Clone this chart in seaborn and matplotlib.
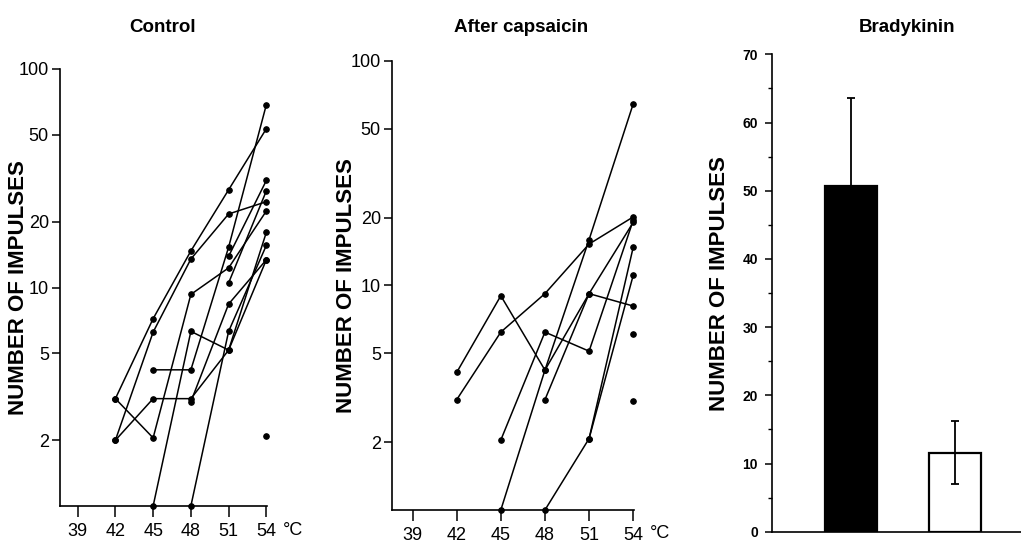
import numpy as np
import pandas as pd
import matplotlib
matplotlib.use('Agg')
import matplotlib.pyplot as plt
import seaborn as sns

# --- data ---
temps = [42, 45, 48, 51, 54]
nan = np.nan

# impulses per heat step, one row per fibre (log scale panels)
control_cells = [
    [3.1, 7.2, 14.7, 28.0, 53.3],
    [2.0, 6.25, 13.5, 21.7, 24.7],
    [3.1, 2.05, 9.3, 12.3, 22.4],
    [2.0, 3.1, 3.1, 5.17, 13.4],
    [nan, 4.2, 4.2, 15.3, 68.7],
    [nan, 1.0, 6.3, 5.17, 17.9],
    [nan, nan, 1.0, 6.3, 15.6],
    [nan, nan, 3.0, 8.4, 13.4],
    [nan, nan, nan, 10.5, 27.7],
    [nan, nan, nan, 13.9, 30.9],
    [nan, nan, nan, nan, 2.1],
]

capsaicin_cells = [
    [4.1, 9.0, 4.2, 9.2, 19.1],
    [3.1, 6.2, 9.2, 15.3, 20.2],
    [nan, 1.0, 4.2, 16.0, 64.4],
    [nan, 2.05, 6.2, 5.1, 19.5],
    [nan, nan, 3.1, 9.2, 8.1],
    [nan, nan, 1.0, 2.08, 11.1],
    [nan, nan, nan, 2.08, 14.8],
    [nan, nan, nan, nan, 6.1],
    [nan, nan, nan, nan, 3.06],
]

# bradykinin bar panel
bk_groups = ['control', 'after capsaicin']
bk_means = [50.7, 11.6]
bk_err = [12.9, 4.6]
bk_colors = ['black', 'white']

x_ticks = [39, 42, 45, 48, 51, 54]
log_ticks = [2, 5, 10, 20, 50, 100]


def to_long(cells):
    rows = []
    for i, vals in enumerate(cells):
        for t, v in zip(temps, vals):
            if not np.isnan(v):
                rows.append({'cell': i, 'temp': t, 'impulses': v})
    return pd.DataFrame(rows)


sns.set_style('ticks')
plt.rcParams['font.family'] = ['Liberation Sans', 'DejaVu Sans']
plt.rcParams['axes.linewidth'] = 1.2
for key in ['text.color', 'axes.labelcolor', 'xtick.color', 'ytick.color', 'axes.edgecolor']:
    plt.rcParams[key] = 'black'

fig = plt.figure(figsize=(10.21, 5.42), dpi=100)

ax1 = fig.add_axes([0.0588, 0.0664, 0.2027, 0.8063])
ax2 = fig.add_axes([0.3839, 0.0590, 0.2370, 0.8285])
ax3 = fig.add_axes([0.7561, 0.0190, 0.2439, 0.8808])

label_font = {'family': ['Liberation Sans'], 'weight': 'bold', 'size': 16}

panels = [(ax1, control_cells, -0.15, 1.077, -0.055),
          (ax2, capsaicin_cells, -0.145, 1.066, -0.052)]
for ax, cells, lab_x, deg_x, deg_y in panels:
    df = to_long(cells)
    sns.lineplot(data=df, x='temp', y='impulses', units='cell', estimator=None,
                 color='black', linewidth=1.1, marker='o', markersize=4,
                 markeredgecolor='black', markerfacecolor='black',
                 ax=ax, clip_on=False, legend=False)
    ax.set_yscale('log')
    ax.set_ylim(1, 100)
    ax.set_xlim(37.6, 54.05)
    ax.set_yticks(log_ticks)
    ax.set_yticklabels([str(v) for v in log_ticks])
    ax.yaxis.set_minor_locator(matplotlib.ticker.NullLocator())
    ax.set_xticks(x_ticks)
    ax.tick_params(axis='both', direction='out', length=6, width=1.1,
                   labelsize=13)
    ax.tick_params(axis='y', pad=2)
    ax.tick_params(axis='x', length=8, pad=4)
    sns.despine(ax=ax)
    ax.set_xlabel('')
    ax.set_ylabel('NUMBER OF IMPULSES', fontdict=label_font)
    ax.yaxis.set_label_coords(lab_x, 0.5)
    ax.text(deg_x, deg_y, '°C', transform=ax.transAxes, fontsize=13,
            ha='left', va='center')

# bar panel
sns.barplot(x=bk_groups, y=bk_means, hue=bk_groups, palette=bk_colors,
            edgecolor='black', linewidth=1.6, width=0.5, legend=False, ax=ax3)
ax3.errorbar([0, 1], bk_means, yerr=bk_err, fmt='none', ecolor='black',
             elinewidth=1.3, capsize=3, capthick=1.3)
ax3.set_xlim(-0.766, 1.64)
ax3.set_ylim(0, 70)
ax3.set_yticks(range(0, 71, 10))
ax3.yaxis.set_minor_locator(matplotlib.ticker.MultipleLocator(5))
ax3.set_xticks([])
ax3.tick_params(axis='y', which='major', direction='out', length=5, width=1.1,
                labelsize=10, pad=5)
ax3.tick_params(axis='y', which='minor', direction='out', length=3, width=1.0)
for lab in ax3.get_yticklabels():
    lab.set_fontweight('bold')
sns.despine(ax=ax3)
ax3.set_ylabel('NUMBER OF IMPULSES', fontdict=label_font)
ax3.yaxis.set_label_coords(-0.169, 0.52)

title_kw = dict(ha='center', va='center', fontsize=13.5, fontweight='bold')
fig.text(163 / 1021, 1 - 27 / 542, 'Control', **title_kw)
fig.text(521 / 1021, 1 - 27 / 542, 'After capsaicin', **title_kw)
fig.text(907 / 1021, 1 - 27 / 542, 'Bradykinin', **title_kw)

fig.savefig('out.png', dpi=100)
